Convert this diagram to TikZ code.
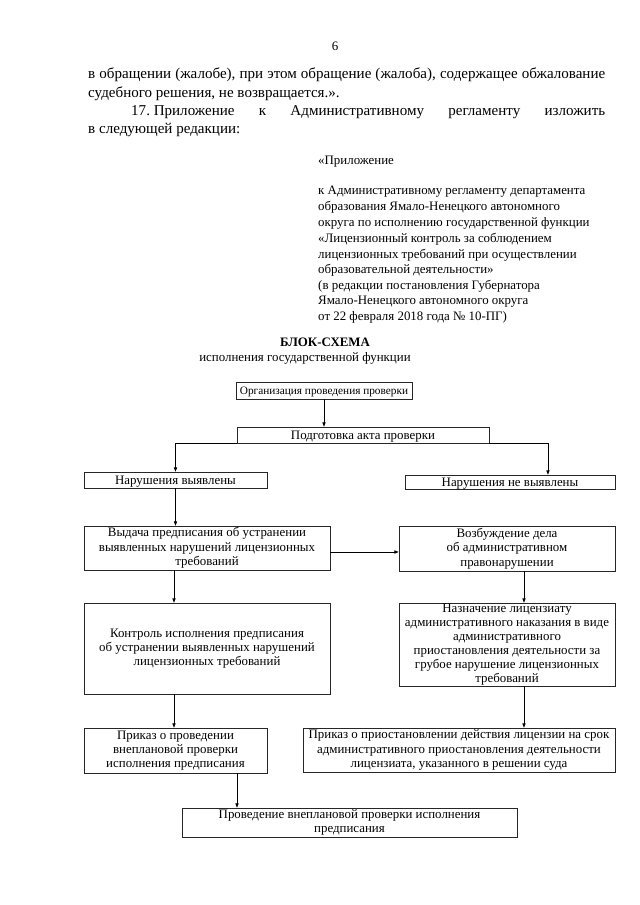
\documentclass[tikz,border=0pt]{standalone}
\usepackage{fontspec}
\setmainfont{Liberation Serif}
\usetikzlibrary{arrows.meta}
\newcommand\fz[2]{\fontsize{#1}{#2}\selectfont}
\begin{document}
\begin{tikzpicture}[x=0.93pt,y=-0.93pt,
  box/.style={draw=black!85, line width=0.5pt, inner sep=0pt, align=center, font=\fz{12}{13.3}},
  onebox/.style={box, text height=8pt, text depth=0pt},
  arr/.style={draw=black, line width=0.6pt, -{Triangle[length=4pt,width=3pt]}},
  body/.style={anchor=base west, inner sep=0pt, font=\fz{14}{16}},
  app/.style={anchor=base west, inner sep=0pt, font=\fz{12}{14}}]
\useasboundingbox (0,0) rectangle (640,905);
\fill[white] (0,0) rectangle (640,905);
% page number
\node[anchor=base, inner sep=0pt, font=\fz{12}{14}] (pn) at (335,50) {6};
% body text
\node[body] (l1) at (88,78) {\makebox[480.8pt][s]{в обращении (жалобе), при этом обращение (жалоба), содержащее обжалование}};
\node[body] (l2) at (88,97) {судебного решения, не возвращается.».};
\node[body] (l3) at (131,115) {\makebox[440.8pt][s]{17.\kern0.25em Приложение к Административному регламенту изложить}};
\node[body] (l4) at (88,133) {в следующей редакции:};
% appendix header
\node[app] (a0) at (318,164) {«Приложение};
\node[app] (a1) at (318,194) {к Административному регламенту департамента};
\node[app] (a2) at (318,210) {образования Ямало-Ненецкого автономного};
\node[app] (a3) at (318,226) {округа по исполнению государственной функции};
\node[app] (a4) at (318,242) {«Лицензионный контроль за соблюдением};
\node[app] (a5) at (318,258) {лицензионных требований при осуществлении};
\node[app] (a6) at (318,273) {образовательной деятельности»};
\node[app] (a7) at (318,289) {(в редакции постановления Губернатора};
\node[app] (a8) at (318,304) {Ямало-Ненецкого автономного округа};
\node[app] (a9) at (318,320) {от 22 февраля 2018 года № 10-ПГ)};
% title
\node[anchor=base, inner sep=0pt, font=\fz{12}{14}\bfseries] (t1) at (325,346) {БЛОК-СХЕМА};
\node[anchor=base, inner sep=0pt, font=\fz{12}{14}] (t2) at (305,361) {исполнения государственной функции};
% boxes
\node[onebox, font=\fz{10.5}{12}, text height=7pt, minimum width=163.7pt, minimum height=15.8pt] (b1) at (324,390.5) {Организация проведения проверки};
\node[onebox, minimum width=234.4pt, minimum height=14.9pt] (b2) at (363,435) {Подготовка акта проверки};
\node[onebox, minimum width=170.2pt, minimum height=14.9pt] (b3) at (175.5,480) {Нарушения выявлены};
\node[onebox, minimum width=195.3pt, minimum height=13pt] (b4) at (510,482) {Нарушения не выявлены};
\node[box, minimum width=228.8pt, minimum height=40.9pt] (b5) at (207,548) {Выдача предписания об устранении\\выявленных нарушений лицензионных\\требований};
\node[box, minimum width=200.9pt, minimum height=41.9pt] (b6) at (507,548.5) {Возбуждение дела\\об административном\\правонарушении};
\node[box, minimum width=228.8pt, minimum height=84.6pt] (b7) at (207,648.5) {Контроль исполнения предписания\\об устранении выявленных нарушений\\лицензионных требований};
\node[box, font=\fz{12}{13}, minimum width=200.9pt, minimum height=77.2pt] (b8) at (507,644.5) {Назначение лицензиату\\административного наказания в виде\\административного\\приостановления деятельности за\\грубое нарушение лицензионных\\требований};
\node[box, minimum width=170.2pt, minimum height=41.9pt] (b9) at (175.5,750.5) {Приказ о проведении\\внеплановой проверки\\исполнения предписания};
\node[box, minimum width=290.2pt, minimum height=40.9pt] (b10) at (459,750) {Приказ о приостановлении действия лицензии на срок\\административного приостановления деятельности\\лицензиата, указанного в решении суда};
\node[box, minimum width=311.6pt, minimum height=27pt] (b11) at (349.5,822.5) {Проведение внеплановой проверки исполнения\\предписания};
% connectors
\draw[arr] (b1.south) -- (b1.south |- b2.north);
\draw[arr] (b2.south west) -| (b3.north);
\draw[arr] (b2.south east) -| ([xshift=35.3pt]b4.north);
\draw[arr] (b3.south) -- (b3.south |- b5.north);
\draw[arr] ([yshift=-3.7pt]b5.east) -- ([yshift=-3.7pt]b5.east -| b6.west);
\draw[arr] ([xshift=-30.7pt]b5.south) -- ([xshift=-30.7pt]b5.south |- b7.north);
\draw[arr] ([xshift=15.8pt]b6.south) -- ([xshift=15.8pt]b6.south |- b8.north);
\draw[arr] ([xshift=-30.7pt]b7.south) -- ([xshift=-30.7pt]b7.south |- b9.north);
\draw[arr] ([xshift=15.8pt]b8.south) -- ([xshift=15.8pt]b8.south |- b10.north);
\draw[arr] ([xshift=57.2pt]b9.south) -- ([xshift=57.2pt]b9.south |- b11.north);
\end{tikzpicture}
\end{document}
